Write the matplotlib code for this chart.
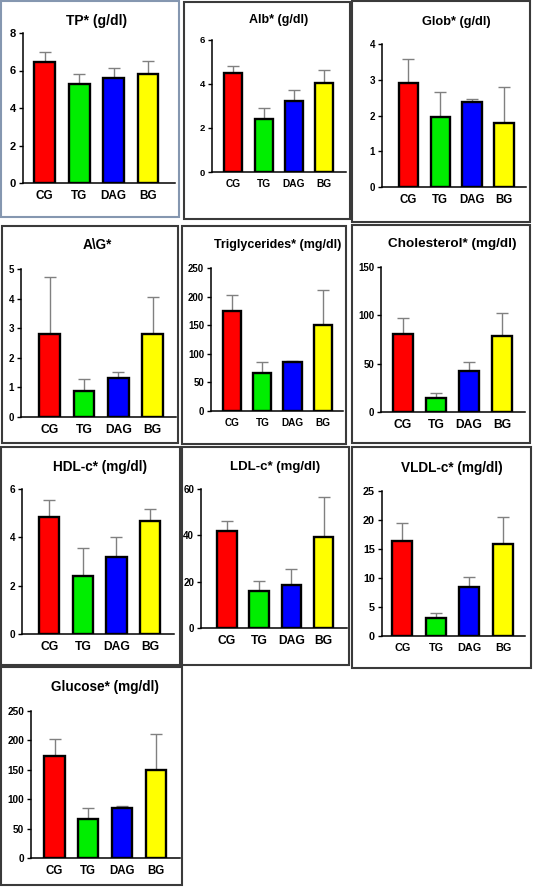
import matplotlib.pyplot as plt
import numpy as np
from matplotlib.patches import Rectangle

plt.rcParams['font.family'] = ['Liberation Sans', 'DejaVu Sans']

groups = ['CG', 'TG', 'DAG', 'BG']
bar_colors = ['#ff0000', '#00ee00', '#0000ff', '#ffff00']

titles = ['TP* (g/dl)', 'Alb* (g/dl)', 'Glob* (g/dl)', 'A\\G*',
          'Triglycerides* (mg/dl)', 'Cholesterol* (mg/dl)',
          'HDL-c* (mg/dl)', 'LDL-c* (mg/dl)', 'VLDL-c* (mg/dl)',
          'Glucose* (mg/dl)']

# means and upper error bar tips
tp = [6.45, 5.3, 5.58, 5.8]
tp_top = [6.98, 5.82, 6.14, 6.52]
alb = [4.48, 2.4, 3.2, 4.02]
alb_top = [4.8, 2.92, 3.7, 4.62]
glob = [2.9, 1.95, 2.38, 1.8]
glob_top = [3.58, 2.66, 2.46, 2.81]
ag = [2.82, 0.87, 1.32, 2.82]
ag_top = [4.73, 1.27, 1.53, 4.06]
tg = [174, 66, 85, 150]
tg_top = [203, 85, 88, 211]
chol = [81, 15, 42, 79]
chol_top = [97, 20, 52, 102]
hdl = [4.83, 2.38, 3.17, 4.68]
hdl_top = [5.53, 3.54, 4.03, 5.19]
ldl = [42, 16, 18.5, 39.2]
ldl_top = [46.2, 20.3, 25.5, 56.5]
vldl = [16.3, 3.1, 8.4, 15.8]
vldl_top = [19.5, 4.0, 10.2, 20.5]
glucose = [174, 66, 85, 150]
glucose_top = [203, 85, 88, 211]

means = [tp, alb, glob, ag, tg, chol, hdl, ldl, vldl, glucose]
tops = [tp_top, alb_top, glob_top, ag_top, tg_top, chol_top,
        hdl_top, ldl_top, vldl_top, glucose_top]
ymax = [8, 6, 4, 5, 250, 150, 6, 60, 25, 250]
ystep = [2, 2, 1, 1, 50, 50, 2, 20, 5, 50]

# layout in pixels: axis left, axis right, y of zero, y of top, xlim, title x, title y
W, H = 533, 890
layout = [
    (23, 175, 183, 33, (-0.63, 3.78), 97, 21),
    (212, 346, 172, 39.5, (-0.71, 3.73), 279, 20),
    (382, 526, 187, 44, (-0.82, 3.69), 456, 22),
    (21, 176, 417, 269, (-0.83, 3.68), 97, 245),
    (211, 343, 411, 268, (-0.71, 3.68), 278, 245),
    (381, 525, 412, 267, (-0.67, 3.70), 452, 244),
    (22, 174, 634, 489, (-0.81, 3.71), 100, 467),
    (201, 347, 628, 489, (-0.80, 3.72), 275, 467),
    (382, 525, 636, 491, (-0.61, 3.66), 452, 468),
    (31, 180, 858, 711, (-0.70, 3.72), 105, 687),
]
title_size = [10, 9, 9.2, 9.8, 9, 9.7, 9.8, 9.5, 9.8, 9.8]
xlab_size = [8.5, 7.3, 8.3, 8.7, 7.2, 8.7, 8.7, 8.7, 7.8, 8.3]
ylab_size = [8, 6.8, 7, 7, 6.9, 7, 7.2, 7, 7.8, 7.2]
boxes = [
    (1, 1, 179, 217), (184, 2, 350, 219), (352, 1, 530, 222),
    (2, 226, 178, 443), (182, 226, 346, 444), (352, 225, 530, 443),
    (1, 447, 180, 665), (182, 447, 349, 665), (352, 447, 531, 668),
    (1, 667, 182, 885),
]

fig = plt.figure(figsize=(W / 100, H / 100), dpi=100)

for i, (x0, y0, x1, y1) in enumerate(boxes):
    col = '#8597b0' if i == 0 else '#3a3a3a'
    fig.patches.append(Rectangle((x0 / W, 1 - y1 / H), (x1 - x0) / W, (y1 - y0) / H,
                                 transform=fig.transFigure, fill=False,
                                 edgecolor=col, linewidth=1.5))

x = np.arange(len(groups))
for i in range(len(titles)):
    xl, xr, yz, yt, xlim, tx, ty = layout[i]
    ax = fig.add_axes([xl / W, 1 - yz / H, (xr - xl) / W, (yz - yt) / H])
    vals = np.array(means[i])
    err = np.array(tops[i]) - vals
    ax.errorbar(x, vals, yerr=[np.zeros(4), err], fmt='none', ecolor='#808080',
                elinewidth=1, capsize=4, capthick=1, zorder=1)
    ax.bar(x, vals, 0.6, color=bar_colors, edgecolor='black', linewidth=1.7, zorder=2)
    ax.set_xlim(*xlim)
    ax.set_ylim(0, ymax[i])
    ax.set_yticks(np.arange(0, ymax[i] + 0.001, ystep[i]))
    ax.set_xticks(x)
    ax.set_xticklabels(groups, fontsize=xlab_size[i], fontweight='bold')
    for lab in ax.get_yticklabels():
        lab.set_fontsize(ylab_size[i])
        lab.set_fontweight('bold')
    ax.tick_params(axis='x', length=0, pad=5)
    ax.tick_params(axis='y', length=3, width=1, pad=2)
    ax.spines['right'].set_visible(False)
    ax.spines['top'].set_visible(False)
    ax.spines['left'].set_linewidth(1.1)
    ax.spines['bottom'].set_linewidth(1.1)
    ax.patch.set_visible(False)
    fig.text(tx / W, 1 - ty / H, titles[i], ha='center', va='center',
             fontsize=title_size[i], fontweight='bold')

plt.savefig('out.png', dpi=100)
